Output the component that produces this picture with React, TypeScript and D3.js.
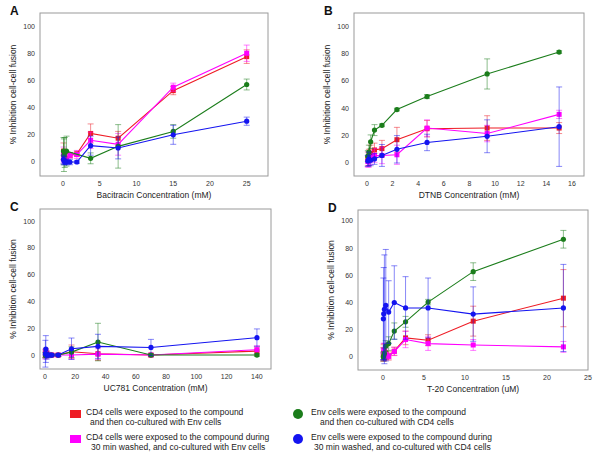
import React, { useEffect, useRef } from "react";
import * as d3 from "d3";

// Panel A - Bacitracin (mM)
const xA = [0.06, 0.12, 0.23, 0.47, 0.94, 1.88, 3.75, 7.5, 15, 25];
const redA = [8, 5, 3, 2, 5, 6, 21, 17.5, 52.5, 77.5];
const redAErr = [6, 4, 3, 2, 2, 2, 7, 5, 3, 5];
const magA = [6, 4, 2, 1, 5, 5.5, 16, 13, 55, 80];
const magAErr = [5, 4, 3, 2, 2, 3, 6, 8, 3, 6];
const greenA = [8, 5, 7, 8, null, null, 2.7, 11.5, 22.5, 57];
const greenAErr = [10, 12, 11, 11, 0, 0, 4, 16, 5, 4];
const blueA = [2, 1, 0, 0, 0, 0, 12, 10.3, 20, 30];
const blueAErr = [3, 3, 2, 2, 2, 1, 7, 8, 7, 3];

// Panel B - DTNB (mM)
const xB = [0.07, 0.15, 0.29, 0.59, 1.17, 2.34, 4.69, 9.38, 15];
const redB = [3, 4, 7, 9.5, 10.5, 17, 25, 25.5, 25.5];
const redBErr = [5, 6, 6, 5, 6, 9, 6, 9, 4];
const magB = [1, 2, 4, 5.5, 5.5, 6, 25.5, 21.5, 35.5];
const magBErr = [4, 5, 5, 5, 6, 7, 6, 6, 3];
const greenB = [5, 8, 15.5, 24, 27.5, 39, 48.5, 65, 81];
const greenBErr = [4, 5, 5, 4, 1, 1, 1.5, 11, 1];
const blueB = [1.5, 3, 2, 3, 5.5, 10, 15, 19.5, 26.5];
const blueBErr = [4, 5, 4, 4, 8, 10, 6, 12, 29];

// Panel C - UC781 (mM)
const xC = [0.27, 0.55, 1.1, 2.2, 4.4, 8.75, 17.5, 35, 70, 140];
const redC = [1, 2, 1, 0, 0, 0, 2.5, 1, 0, 3];
const redCErr = [3, 3, 2, 1, 1, 1, 5, 5, 1, 3];
const magC = [0, 1, 0, 0, 0, 0, 0, 0.7, 0, 4];
const magCErr = [3, 3, 2, 1, 1, 1, 3, 4, 1, 3];
const greenC = [0, 0, 0, 0, 0, 0, 2.2, 9.7, 0, 0];
const greenCErr = [2, 2, 1, 1, 1, 1, 4, 14, 1, 1];
const blueC = [1, 4.5, 0, 0, 0, 0, 4.7, 6.5, 5.7, 13];
const blueCErr = [10, 10, 3, 2, 1, 1, 8, 9, 6, 6.5];

// Panel D - T-20 (uM)
const xD = [0.043, 0.086, 0.17, 0.34, 0.69, 1.375, 2.75, 5.5, 11, 22];
const redD = [2, 3, 4, 3, 0.7, 4.2, 14, 12.3, 26.3, 43.2];
const redDErr = [5, 6, 6, 5, 3, 3, 5, 4, 11, 21];
const magD = [2, 5, 3, 2, 0.5, 4, 12.8, 9.8, 8.8, 7.4];
const magDErr = [4, 5, 4, 4, 2, 3, 6, 5, 4, 4];
const greenD = [0, 1, 2.5, 8, 9.8, 19, 25.8, 40.3, 62.7, 86.5];
const greenDErr = [3, 3, 4, 4, 5, 6, 4, 2, 6.5, 6.5];
const blueD = [28, 31.7, 35, 38, 33, 40, 36, 36, 31.5, 36];
const blueDErr = [30, 34, 40, 41, 23, 27, 23, 22, 20, 32];

const yTicks = [0, 20, 40, 60, 80, 100];
const xTicksA = [0, 5, 10, 15, 20, 25];
const xTicksB = [0, 2, 4, 6, 8, 10, 12, 14, 16];
const xTicksC = [0, 20, 40, 60, 80, 100, 120, 140];
const xTicksD = [0, 5, 10, 15, 20, 25];

const legendLabels = [
  ["CD4  cells were exposed to the compound", "and then co-cultured with Env cells"],
  ["CD4  cells were exposed to the compound during", "30 min washed, and co-cultured with Env cells"],
  ["Env cells were exposed to the compound", "and then co-cultured with CD4 cells"],
  ["Env cells were exposed to the compound during", "30 min washed, and co-cultured with CD4 cells"],
];

const RED = "#ee1c25";
const MAG = "#ff00ff";
const GREEN = "#1b7d1b";
const BLUE = "#1414f0";
const FONT = "'Liberation Sans', Arial, sans-serif";

const panels = [
  {
    letter: "A", x: xA, xTicks: xTicksA, xLabel: "Bacitracin Concentration (mM)",
    box: [40, 268, 13, 176], xDom: [-3.14, 27.9], yDom: [-10.3, 109.6],
    series: [[redA, redAErr], [magA, magAErr], [greenA, greenAErr], [blueA, blueAErr]],
  },
  {
    letter: "B", x: xB, xTicks: xTicksB, xLabel: "DTNB Concentration (mM)",
    box: [354, 584, 13, 176], xDom: [-1.01, 16.94], yDom: [-9.5, 109.5],
    series: [[redB, redBErr], [magB, magBErr], [greenB, greenBErr], [blueB, blueBErr]],
  },
  {
    letter: "C", x: xC, xTicks: xTicksC, xLabel: "UC781 Concentration (mM)",
    box: [40, 271, 209, 369], xDom: [-3.3, 149.3], yDom: [-10.4, 109],
    series: [[redC, redCErr], [magC, magCErr], [greenC, greenCErr], [blueC, blueCErr]],
  },
  {
    letter: "D", x: xD, xTicks: xTicksD, xLabel: "T-20 Concentration (uM)",
    box: [358, 588, 210, 370], xDom: [-3.05, 25], yDom: [-9.6, 108],
    series: [[redD, redDErr], [magD, magDErr], [greenD, greenDErr], [blueD, blueDErr]],
  },
];

const colors = [RED, MAG, GREEN, BLUE];
const shapes = ["square", "square", "circle", "circle"];

export default function App() {
  const svgRef = useRef(null);

  useEffect(() => {
    const svg = d3.select(svgRef.current);
    svg.selectAll("*").remove();

    panels.forEach((p) => {
      const [l, r, t, b] = p.box;
      const xs = d3.scaleLinear().domain(p.xDom).range([l, r]);
      const ys = d3.scaleLinear().domain(p.yDom).range([b, t]);
      const g = svg.append("g");

      g.append("rect")
        .attr("x", l).attr("y", t)
        .attr("width", r - l).attr("height", b - t)
        .attr("fill", "white")
        .attr("stroke", "#9a9a9a")
        .attr("stroke-width", 1);

      g.selectAll(".yt").data(yTicks).enter().append("text")
        .attr("x", l - 5).attr("y", (d) => ys(d) + 2.5)
        .attr("text-anchor", "end")
        .attr("font-size", 7).attr("fill", "#333")
        .text((d) => d);

      g.selectAll(".xt").data(p.xTicks).enter().append("text")
        .attr("x", (d) => xs(d)).attr("y", b + 10)
        .attr("text-anchor", "middle")
        .attr("font-size", 7).attr("fill", "#333")
        .text((d) => d);

      g.append("text")
        .attr("x", (l + r) / 2).attr("y", b + 22)
        .attr("text-anchor", "middle")
        .attr("font-size", 8.5).attr("fill", "#222")
        .text(p.xLabel);

      g.append("text")
        .attr("transform", `translate(${l - 24},${(t + b) / 2}) rotate(-90)`)
        .attr("text-anchor", "middle")
        .attr("font-size", 8.5).attr("fill", "#222")
        .text("% Inhibition cell-cell fusion");

      g.append("text")
        .attr("x", l - 30).attr("y", t + 2)
        .attr("font-size", 12).attr("font-weight", "bold").attr("fill", "#111")
        .text(p.letter);

      p.series.forEach(([vals, errs], si) => {
        const c = colors[si];
        const pts = p.x.map((xv, i) => ({ x: xv, y: vals[i], e: errs[i] }))
          .filter((d) => d.y !== null);

        // error bars
        const eg = g.append("g").attr("stroke", c).attr("stroke-opacity", 0.5).attr("stroke-width", 1);
        pts.forEach((d) => {
          if (!d.e) return;
          const cx = xs(d.x);
          eg.append("line").attr("x1", cx).attr("x2", cx)
            .attr("y1", ys(d.y - d.e)).attr("y2", ys(d.y + d.e));
          [d.y - d.e, d.y + d.e].forEach((v) => {
            eg.append("line").attr("x1", cx - 3).attr("x2", cx + 3)
              .attr("y1", ys(v)).attr("y2", ys(v));
          });
        });

        const line = d3.line().x((d) => xs(d.x)).y((d) => ys(d.y));
        g.append("path").datum(pts)
          .attr("d", line)
          .attr("fill", "none")
          .attr("stroke", c)
          .attr("stroke-width", 1.1);

        if (shapes[si] === "square") {
          g.selectAll(null).data(pts).enter().append("rect")
            .attr("x", (d) => xs(d.x) - 2.5).attr("y", (d) => ys(d.y) - 2.5)
            .attr("width", 5).attr("height", 5)
            .attr("fill", c);
        } else {
          g.selectAll(null).data(pts).enter().append("circle")
            .attr("cx", (d) => xs(d.x)).attr("cy", (d) => ys(d.y))
            .attr("r", 2.6)
            .attr("fill", c);
        }
      });
    });

    // legend
    const legPos = [
      [75, 414, 86, 90],
      [75, 439, 86, 91],
      [298, 414, 311, 320],
      [298, 439, 311, 314],
    ];
    legendLabels.forEach((lines, i) => {
      const [mx, my, tx1, tx2] = legPos[i];
      if (shapes[i] === "square") {
        svg.append("rect").attr("x", mx - 5).attr("y", my - 4)
          .attr("width", 11).attr("height", 8).attr("fill", colors[i]);
      } else {
        svg.append("circle").attr("cx", mx).attr("cy", my).attr("r", 5).attr("fill", colors[i]);
      }
      svg.append("text").attr("x", tx1).attr("y", my + 1)
        .attr("font-size", 8.5).attr("fill", "#222").text(lines[0]);
      svg.append("text").attr("x", tx2).attr("y", my + 11)
        .attr("font-size", 8.5).attr("fill", "#222").text(lines[1]);
    });
  }, []);

  return (
    <svg
      ref={svgRef}
      width={600}
      height={458}
      style={{ position: "absolute", left: 0, top: 0, fontFamily: FONT, background: "white" }}
    />
  );
}
